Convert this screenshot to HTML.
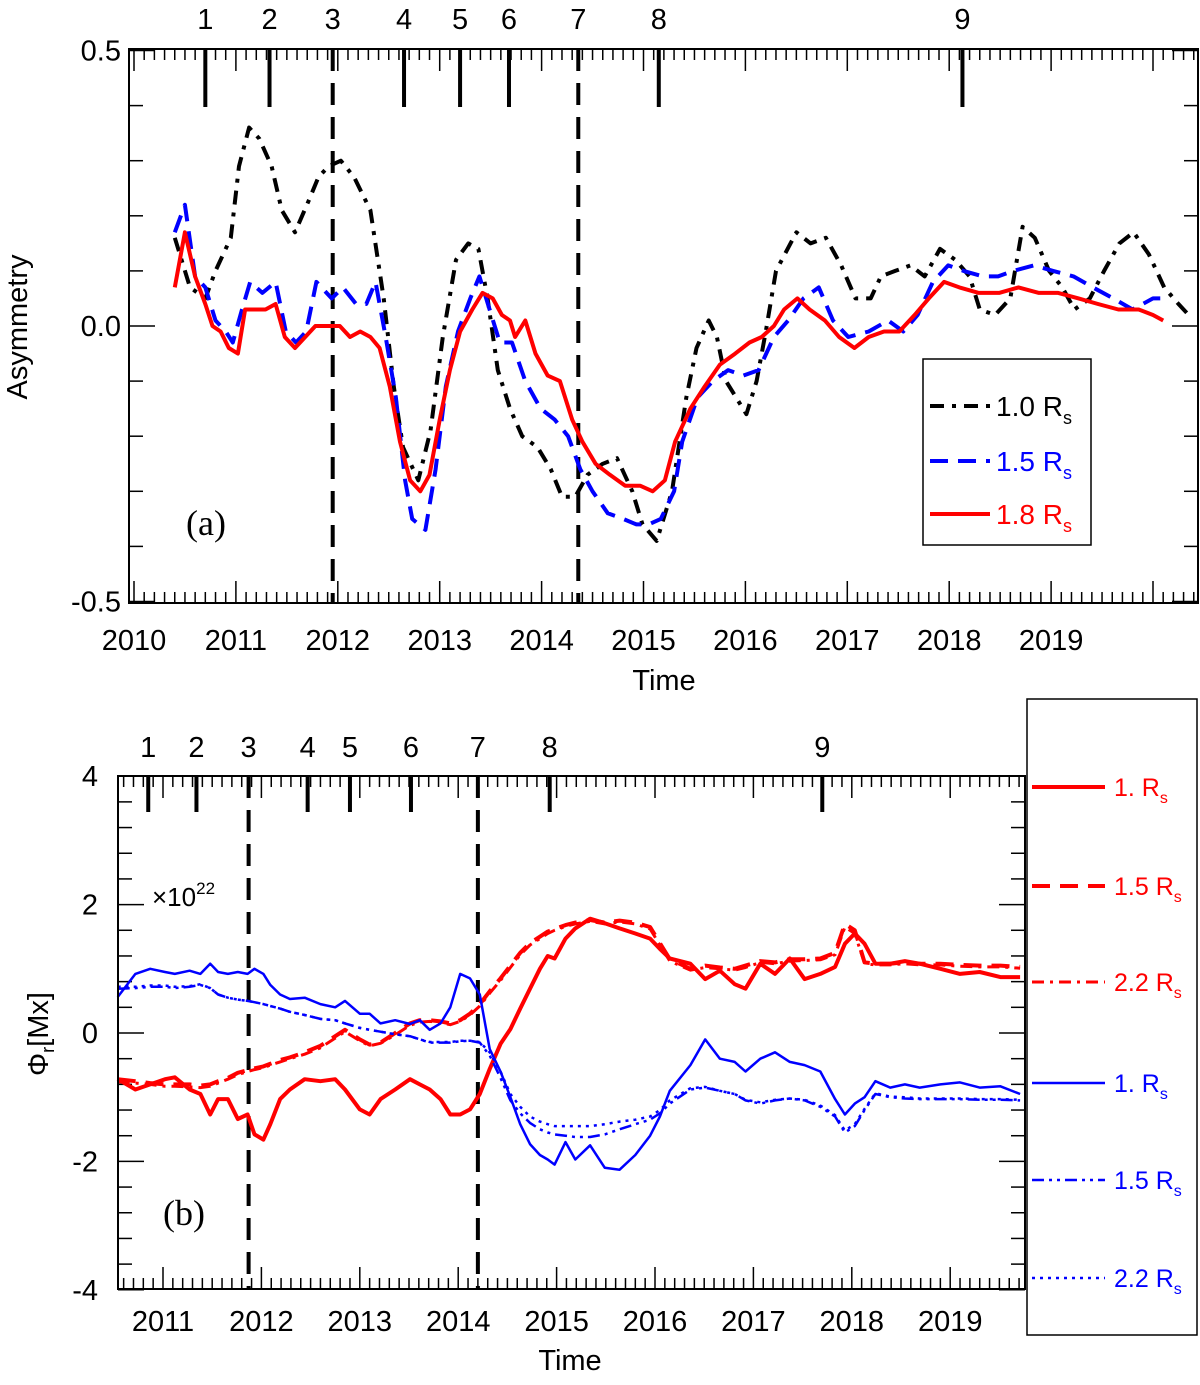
<!DOCTYPE html>
<html><head><meta charset="utf-8">
<style>
body{margin:0;background:#fff;}
svg{display:block;font-family:"Liberation Sans",sans-serif;}
</style></head>
<body>
<svg id="fig" width="1200" height="1385" viewBox="0 0 1200 1385" xmlns="http://www.w3.org/2000/svg"></svg>
<script>
// ---------- Panel (a) data ----------
const aBlackT=[2010.4,2010.55,2010.7,2010.8,2010.95,2011.03,2011.13,2011.23,2011.35,2011.45,2011.58,2011.72,2011.81,2011.91,2012.03,2012.16,2012.32,2012.45,2012.55,2012.64,2012.79,2012.91,2013.03,2013.16,2013.28,2013.38,2013.47,2013.57,2013.69,2013.81,2013.96,2014.09,2014.2,2014.33,2014.45,2014.6,2014.74,2014.89,2014.99,2015.13,2015.28,2015.42,2015.52,2015.64,2015.72,2015.81,2015.91,2016.01,2016.11,2016.2,2016.3,2016.5,2016.64,2016.79,2016.94,2017.08,2017.23,2017.33,2017.47,2017.62,2017.76,2017.91,2018.06,2018.2,2018.3,2018.45,2018.6,2018.72,2018.84,2018.98,2019.11,2019.23,2019.38,2019.52,2019.67,2019.81,2019.96,2020.11,2020.25,2020.35];
const aBlackV=[0.16,0.07,0.05,0.10,0.16,0.29,0.36,0.34,0.29,0.21,0.17,0.23,0.27,0.29,0.30,0.27,0.21,0.05,-0.11,-0.22,-0.28,-0.19,-0.02,0.12,0.15,0.14,0.05,-0.08,-0.15,-0.20,-0.22,-0.26,-0.31,-0.31,-0.27,-0.25,-0.24,-0.30,-0.36,-0.39,-0.30,-0.13,-0.04,0.01,-0.02,-0.10,-0.13,-0.16,-0.10,-0.01,0.10,0.17,0.15,0.16,0.11,0.05,0.05,0.09,0.10,0.11,0.09,0.14,0.12,0.09,0.03,0.02,0.05,0.18,0.16,0.10,0.07,0.03,0.05,0.10,0.15,0.17,0.13,0.07,0.04,0.02];
const aBlueT=[2010.4,2010.5,2010.6,2010.7,2010.8,2010.9,2010.97,2011.06,2011.14,2011.26,2011.39,2011.49,2011.59,2011.69,2011.79,2011.94,2012.05,2012.18,2012.28,2012.37,2012.47,2012.57,2012.66,2012.73,2012.86,2012.96,2013.06,2013.18,2013.3,2013.39,2013.49,2013.59,2013.71,2013.84,2013.99,2014.13,2014.26,2014.38,2014.5,2014.65,2014.8,2014.93,2015.05,2015.17,2015.3,2015.38,2015.53,2015.68,2015.83,2015.98,2016.13,2016.28,2016.42,2016.57,2016.72,2016.86,2017.01,2017.21,2017.4,2017.55,2017.69,2017.84,2017.99,2018.14,2018.33,2018.48,2018.63,2018.83,2019.02,2019.22,2019.41,2019.61,2019.8,2020.0,2020.15];
const aBlueV=[0.17,0.22,0.09,0.07,0.01,-0.01,-0.03,0.03,0.08,0.06,0.08,-0.01,-0.03,-0.01,0.08,0.05,0.07,0.04,0.04,0.08,-0.02,-0.13,-0.28,-0.35,-0.37,-0.26,-0.11,-0.01,0.05,0.09,0.03,-0.03,-0.03,-0.10,-0.15,-0.17,-0.20,-0.26,-0.30,-0.34,-0.35,-0.36,-0.36,-0.35,-0.30,-0.21,-0.13,-0.10,-0.08,-0.09,-0.08,-0.02,0.01,0.05,0.07,0.01,-0.02,-0.01,0.01,-0.01,0.02,0.08,0.11,0.10,0.09,0.09,0.10,0.11,0.10,0.09,0.07,0.05,0.03,0.05,0.05];
const aRedT=[2010.4,2010.5,2010.6,2010.7,2010.77,2010.85,2010.93,2011.02,2011.09,2011.19,2011.29,2011.39,2011.48,2011.58,2011.68,2011.78,2011.93,2012.02,2012.12,2012.22,2012.32,2012.41,2012.51,2012.61,2012.71,2012.81,2012.9,2013.0,2013.1,2013.2,2013.32,2013.42,2013.52,2013.61,2013.69,2013.74,2013.84,2013.94,2014.06,2014.18,2014.3,2014.4,2014.53,2014.67,2014.82,2014.97,2015.09,2015.21,2015.31,2015.46,2015.6,2015.75,2015.9,2016.04,2016.16,2016.28,2016.38,2016.51,2016.63,2016.78,2016.92,2017.07,2017.21,2017.36,2017.51,2017.66,2017.8,2017.95,2018.1,2018.29,2018.49,2018.68,2018.88,2019.07,2019.27,2019.46,2019.66,2019.86,2020.0,2020.1];
const aRedV=[0.07,0.17,0.09,0.04,0.00,-0.01,-0.04,-0.05,0.03,0.03,0.03,0.04,-0.02,-0.04,-0.02,0.00,0.00,0.00,-0.02,-0.01,-0.02,-0.04,-0.11,-0.21,-0.28,-0.30,-0.27,-0.17,-0.08,-0.01,0.03,0.06,0.05,0.02,0.01,-0.02,0.01,-0.05,-0.09,-0.10,-0.17,-0.21,-0.25,-0.27,-0.29,-0.29,-0.30,-0.28,-0.21,-0.15,-0.11,-0.07,-0.05,-0.03,-0.02,0.00,0.03,0.05,0.03,0.01,-0.02,-0.04,-0.02,-0.01,-0.01,0.02,0.05,0.08,0.07,0.06,0.06,0.07,0.06,0.06,0.05,0.04,0.03,0.03,0.02,0.01];
const aEventT=[2010.7,2011.33,2011.95,2012.65,2013.2,2013.68,2014.36,2015.15,2018.13];
const aEventLabels=["1","2","3","4","5","6","7","8","9"];
const aDashedEvents=[2011.95,2014.36];
const aYTicks=[0.5,0.0,-0.5];
const aYTickLabels=["0.5","0.0","-0.5"];
const aXYears=[2010,2011,2012,2013,2014,2015,2016,2017,2018,2019];

// ---------- Panel (b) data ----------
const bT=[2010.54,2010.72,2010.87,2011.02,2011.12,2011.27,2011.38,2011.48,2011.56,2011.66,2011.76,2011.86,2011.93,2012.02,2012.09,2012.19,2012.29,2012.44,2012.6,2012.75,2012.85,2013.0,2013.1,2013.21,2013.36,2013.51,2013.61,2013.71,2013.82,2013.92,2014.02,2014.12,2014.22,2014.32,2014.43,2014.53,2014.63,2014.73,2014.83,2014.91,2014.98,2015.09,2015.19,2015.34,2015.49,2015.64,2015.8,2015.95,2016.05,2016.15,2016.36,2016.51,2016.66,2016.81,2016.92,2017.07,2017.22,2017.37,2017.52,2017.68,2017.83,2017.93,2018.03,2018.13,2018.24,2018.39,2018.54,2018.69,2018.9,2019.1,2019.3,2019.51,2019.71];
const bRed1=[-0.72,-0.88,-0.8,-0.72,-0.69,-0.88,-0.95,-1.27,-1.03,-1.03,-1.34,-1.27,-1.58,-1.66,-1.42,-1.03,-0.88,-0.72,-0.75,-0.72,-0.88,-1.19,-1.27,-1.03,-0.88,-0.72,-0.8,-0.88,-1.03,-1.27,-1.27,-1.19,-0.95,-0.56,-0.17,0.06,0.38,0.69,1.0,1.2,1.16,1.47,1.63,1.78,1.71,1.63,1.55,1.47,1.31,1.16,1.08,0.84,0.97,0.76,0.69,1.08,0.92,1.16,0.84,0.92,1.03,1.39,1.55,1.39,1.08,1.08,1.12,1.08,1.0,0.92,0.95,0.87,0.87];
const bRed15=[-0.72,-0.75,-0.78,-0.8,-0.8,-0.8,-0.82,-0.8,-0.75,-0.7,-0.62,-0.58,-0.55,-0.52,-0.48,-0.42,-0.38,-0.3,-0.2,-0.05,0.05,-0.1,-0.18,-0.15,0.0,0.15,0.2,0.2,0.18,0.15,0.2,0.3,0.45,0.65,0.85,1.05,1.25,1.4,1.5,1.58,1.62,1.68,1.72,1.76,1.72,1.75,1.72,1.65,1.4,1.15,1.0,1.05,1.02,1.0,1.05,1.12,1.1,1.15,1.15,1.16,1.25,1.7,1.6,1.1,1.08,1.08,1.1,1.08,1.08,1.06,1.05,1.05,1.03];
const bRed22=[-0.76,-0.78,-0.8,-0.83,-0.83,-0.84,-0.85,-0.83,-0.78,-0.72,-0.65,-0.6,-0.57,-0.54,-0.5,-0.45,-0.4,-0.33,-0.23,-0.08,0.02,-0.12,-0.2,-0.16,-0.03,0.12,0.17,0.18,0.16,0.13,0.18,0.28,0.42,0.62,0.82,1.02,1.22,1.37,1.47,1.55,1.6,1.66,1.7,1.74,1.7,1.73,1.7,1.62,1.37,1.12,0.98,1.02,1.0,0.98,1.02,1.1,1.08,1.12,1.13,1.14,1.22,1.65,1.55,1.08,1.06,1.06,1.08,1.06,1.06,1.04,1.03,1.03,1.01];
const bBlue1=[0.56,0.92,1.0,0.95,0.92,0.97,0.92,1.08,0.95,0.92,0.95,0.92,1.0,0.92,0.75,0.6,0.53,0.55,0.45,0.4,0.5,0.3,0.3,0.15,0.2,0.14,0.2,0.05,0.15,0.4,0.92,0.85,0.6,-0.25,-0.6,-1.0,-1.42,-1.73,-1.9,-1.97,-2.05,-1.7,-1.97,-1.75,-2.1,-2.13,-1.9,-1.6,-1.3,-0.9,-0.5,-0.1,-0.4,-0.45,-0.6,-0.4,-0.3,-0.45,-0.5,-0.6,-1.03,-1.27,-1.1,-1.0,-0.75,-0.85,-0.8,-0.85,-0.8,-0.77,-0.85,-0.83,-0.95];
const bBlue15=[0.69,0.7,0.72,0.72,0.7,0.72,0.75,0.7,0.6,0.55,0.52,0.5,0.48,0.45,0.42,0.38,0.33,0.28,0.22,0.2,0.15,0.08,0.05,0.02,-0.02,-0.05,-0.1,-0.15,-0.15,-0.15,-0.13,-0.12,-0.15,-0.35,-0.7,-1.05,-1.25,-1.4,-1.5,-1.55,-1.58,-1.6,-1.62,-1.62,-1.58,-1.5,-1.42,-1.35,-1.25,-1.1,-0.88,-0.85,-0.9,-0.95,-1.05,-1.1,-1.05,-1.02,-1.05,-1.15,-1.3,-1.55,-1.45,-1.2,-0.95,-1.0,-1.02,-1.03,-1.03,-1.03,-1.04,-1.04,-1.05];
const bBlue22=[0.72,0.72,0.74,0.74,0.72,0.73,0.76,0.7,0.6,0.55,0.52,0.5,0.48,0.45,0.42,0.38,0.33,0.28,0.22,0.2,0.15,0.08,0.05,0.02,-0.02,-0.05,-0.1,-0.14,-0.14,-0.14,-0.12,-0.12,-0.14,-0.3,-0.6,-0.95,-1.15,-1.3,-1.38,-1.42,-1.45,-1.45,-1.45,-1.45,-1.42,-1.38,-1.35,-1.3,-1.2,-1.05,-0.86,-0.84,-0.9,-0.95,-1.04,-1.08,-1.04,-1.02,-1.04,-1.13,-1.28,-1.52,-1.42,-1.18,-0.94,-0.99,-1.0,-1.02,-1.02,-1.02,-1.03,-1.03,-1.04];
const bEventT=[2010.85,2011.34,2011.87,2012.47,2012.9,2013.52,2014.2,2014.93,2017.7];
const bEventLabels=["1","2","3","4","5","6","7","8","9"];
const bDashedEvents=[2011.87,2014.2];
const bYTicks=[4,2,0,-2,-4];
const bYTickLabels=["4","2","0","-2","-4"];
const bXYears=[2011,2012,2013,2014,2015,2016,2017,2018,2019];

const NS="http://www.w3.org/2000/svg";
const svg=document.getElementById('fig');
function mk(tag,attrs,parent){const e=document.createElementNS(NS,tag);for(const k in attrs)e.setAttribute(k,attrs[k]);(parent||svg).appendChild(e);return e;}

const A={x0:129,x1:1198,y0:49,y1:603};
const ax=t=>134+(t-2010)*101.9;
const ay=v=>326-v*551;
const B={x0:118,x1:1025,y0:776,y1:1289};
const bx=t=>163+(t-2011)*98.4;
const by=v=>1033-v*64.2;

function frame(P,name){
  const r=mk('rect',{x:P.x0,y:P.y0,width:P.x1-P.x0,height:P.y1-P.y0,fill:'none',stroke:'#000','stroke-width':2});
  
  
}
function xticks(P,fx,yStart,yEnd,step,g){
  for(let t=yStart;t<=yEnd+1e-6;t+=step){
    const x=fx(t); if(x<P.x0||x>P.x1) continue;
    const major=Math.abs(t-Math.round(t))<1e-6;
    const L=major?22:11;
    mk('line',{x1:x,x2:x,y1:P.y1,y2:P.y1-L,stroke:'#000','stroke-width':1.5},g);
    mk('line',{x1:x,x2:x,y1:P.y0,y2:P.y0+L,stroke:'#000','stroke-width':1.5},g);
  }
}
function yticks(P,fy,vmin,vmax,step,majorStep,g){
  for(let v=vmin;v<=vmax+1e-6;v+=step){
    const y=fy(v); const major=Math.abs(v/majorStep-Math.round(v/majorStep))<1e-6;
    const L=major?26:14;
    mk('line',{x1:P.x0,x2:P.x0+L,y1:y,y2:y,stroke:'#000','stroke-width':1.5},g);
    mk('line',{x1:P.x1,x2:P.x1-L,y1:y,y2:y,stroke:'#000','stroke-width':1.5},g);
  }
}
function series(fx,fy,T,V,color,width,dash,name){
  const d=T.map((t,i)=>(i?'L':'M')+fx(t).toFixed(1)+','+fy(V[i]).toFixed(1)).join('');
  const p=mk('path',{d:d,fill:'none',stroke:color,'stroke-width':width,'stroke-dasharray':dash,'stroke-linejoin':'round'});
  
  
}
function text(x,y,s,size,anchor,color,name){
  const t=mk('text',{x:x,y:y,'font-size':size,'text-anchor':anchor||'middle',fill:color||'#000'});
  t.textContent=s;
  
  
  return t;
}
function events(P,fx,T,labels,dashed,len,labelY,g){
  T.forEach((t,i)=>{
    const x=fx(t);
    if(dashed.includes(t)){
      const l=mk('line',{x1:x,x2:x,y1:P.y0,y2:P.y1,stroke:'#000','stroke-width':4,'stroke-dasharray':'22,12'});
      
      
    }else{
      mk('line',{x1:x,x2:x,y1:P.y0,y2:P.y0+len,stroke:'#000','stroke-width':4},g);
    }
    text(x,labelY,labels[i],29,'middle','#000','event-label');
  });
}

// ---------- Panel a ----------
const ga=mk('g',{});


xticks(A,ax,2010,2021,0.1,ga);
yticks(A,ay,-0.5,0.5,0.1,0.5,ga);
events(A,ax,aEventT,aEventLabels,aDashedEvents,58,29,ga);
series(ax,ay,aBlackT,aBlackV,'#000',4,'14,8,4,8','series-1.0rs');
series(ax,ay,aBlueT,aBlueV,'#0000ff',4,'18,10','series-1.5rs');
series(ax,ay,aRedT,aRedV,'#ff0000',4,'','series-1.8rs');
frame(A,'panel-a-frame');
aYTicks.forEach((v,i)=>text(A.x0-8,ay(v)+10,aYTickLabels[i],29,'end','#000','y-tick-label'));
aXYears.forEach(y=>text(ax(y),650,String(y),29,'middle','#000','x-tick-label'));
text(664,690,'Time',29,'middle','#000','x-axis-title');
const ya=text(0,0,'Asymmetry',29,'middle','#000','y-axis-title');ya.setAttribute('transform','translate(27,327) rotate(-90)');
const la=text(206,535,'(a)',36,'middle','#000','panel-label-a');la.setAttribute('font-family','Liberation Serif');
const lg=mk('g',{});


mk('rect',{x:923,y:359,width:168,height:186,fill:'#fff',stroke:'#000','stroke-width':1.5},lg);
const legA=[['1.0','#000','14,8,4,8',406],['1.5','#0000ff','18,10',461],['1.8','#ff0000','',514]];
legA.forEach(e=>{
  mk('line',{x1:930,x2:990,y1:e[3],y2:e[3],stroke:e[1],'stroke-width':4,'stroke-dasharray':e[2]},lg);
  const t=text(996,e[3]+10,e[0]+' R',28,'start',e[1],'legend-entry');
  const s=mk('tspan',{'font-size':18,dy:8},t);s.textContent='s';
});

// ---------- Panel b ----------
const gb=mk('g',{});


xticks(B,bx,2010.5,2020,0.1,gb);
yticks(B,by,-4,4,0.4,2,gb);
events(B,bx,bEventT,bEventLabels,bDashedEvents,36,757,gb);
series(bx,by,bT,bRed1,'#ff0000',4,'','series-red-1rs');
series(bx,by,bT,bRed15,'#ff0000',4,'18,10','series-red-1.5rs');
series(bx,by,bT,bRed22,'#ff0000',3,'12,6,3,6','series-red-2.2rs');
series(bx,by,bT,bBlue1,'#0000ff',2.5,'','series-blue-1rs');
series(bx,by,bT,bBlue15,'#0000ff',2.5,'12,5,3,5,3,5','series-blue-1.5rs');
series(bx,by,bT,bBlue22,'#0000ff',2.5,'3,5','series-blue-2.2rs');
frame(B,'panel-b-frame');
bYTicks.forEach((v,i)=>text(B.x0-20,by(v)+10,bYTickLabels[i],29,'end','#000','y-tick-label'));
bXYears.forEach(y=>text(bx(y),1331,String(y),29,'middle','#000','x-tick-label'));
text(570,1370,'Time',29,'middle','#000','x-axis-title');
const sc=text(152,906,'×10',26,'start','#000','scale-factor');const sp=mk('tspan',{'font-size':17,dy:-12},sc);sp.textContent='22';
const yb=text(0,0,'Φ',29,'middle','#000','y-axis-title');yb.setAttribute('transform','translate(48,1034) rotate(-90)');
const ybs=mk('tspan',{'font-size':18,dy:6},yb);ybs.textContent='r';const ybs2=mk('tspan',{'font-size':29,dy:-6},yb);ybs2.textContent='[Mx]';
const lb=text(184,1225,'(b)',36,'middle','#000','panel-label-b');lb.setAttribute('font-family','Liberation Serif');
const lgb=mk('g',{});


mk('rect',{x:1027,y:699,width:170,height:636,fill:'#fff',stroke:'#000','stroke-width':1.5},lgb);
const legB=[['1.','#ff0000','',4,787],['1.5','#ff0000','18,10',4,886],['2.2','#ff0000','12,6,3,6',3,982],['1.','#0000ff','',2.5,1083],['1.5','#0000ff','12,5,3,5,3,5',2.5,1180],['2.2','#0000ff','3,5',2.5,1278]];
legB.forEach(e=>{
  mk('line',{x1:1032,x2:1105,y1:e[4],y2:e[4],stroke:e[1],'stroke-width':e[3],'stroke-dasharray':e[2]},lgb);
  const t=text(1114,e[4]+9,e[0]+' R',25,'start',e[1],'legend-entry');
  const s=mk('tspan',{'font-size':16,dy:7},t);s.textContent='s';
});
</script>
</body></html>
